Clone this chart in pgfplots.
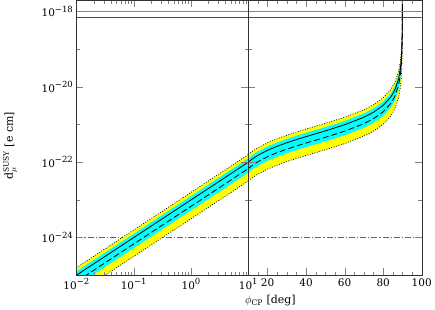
\documentclass[border=0pt]{standalone}
\usepackage{fontspec}
\setmainfont{DejaVu Serif}
\usepackage{pgfplots}
\usepackage{pgfplotstable}
\pgfplotsset{compat=1.18}
\definecolor{yel}{RGB}{255,255,0}
\definecolor{cyn}{RGB}{0,255,255}
\definecolor{rd}{RGB}{255,0,0}
\definecolor{pinkrd}{RGB}{255,90,90}
\definecolor{dgray}{RGB}{100,100,100}
\newcommand{\tp}[1]{10\raisebox{0.45em}{\fontsize{8.5}{9}\selectfont #1}}

\pgfplotstableread{
phi ytop ctop mid dash cbot ybot
0.01 1.569e-25 1.246e-25 9.898e-26 6.69e-26 5.20e-26 3.13e-26
0.1 1.569e-24 1.246e-24 9.898e-25 6.69e-25 5.20e-25 3.13e-25
1 1.569e-23 1.246e-23 9.899e-24 6.69e-24 5.20e-24 3.13e-24
3 4.711e-23 3.742e-23 2.972e-23 2.009e-23 1.560e-23 9.39e-24
10 1.585e-22 1.259e-22 1.000e-22 6.76e-23 5.25e-23 3.16e-23
}\leftdata

\pgfplotstableread{
phi ytop ctop mid dash cbot ybot
10 1.585e-22 1.259e-22 1.000e-22 6.76e-23 5.25e-23 3.16e-23
12 1.911e-22 1.518e-22 1.205e-22 8.15e-23 6.33e-23 3.81e-23
15 2.409e-22 1.913e-22 1.520e-22 1.027e-22 7.98e-23 4.80e-23
20 3.271e-22 2.599e-22 2.064e-22 1.395e-22 1.084e-22 6.52e-23
25 4.191e-22 3.329e-22 2.644e-22 1.787e-22 1.388e-22 8.36e-23
30 5.189e-22 4.122e-22 3.274e-22 2.213e-22 1.719e-22 1.035e-22
35 6.294e-22 5.000e-22 3.971e-22 2.684e-22 2.085e-22 1.255e-22
40 7.543e-22 5.992e-22 4.759e-22 3.217e-22 2.498e-22 1.504e-22
50 1.071e-21 8.508e-22 6.758e-22 4.568e-22 3.548e-22 2.136e-22
60 1.557e-21 1.237e-21 9.823e-22 6.640e-22 5.157e-22 3.104e-22
70 2.469e-21 1.962e-21 1.558e-21 1.053e-21 8.18e-22 4.923e-22
75 3.355e-21 2.665e-21 2.117e-21 1.431e-21 1.111e-21 6.69e-22
80 5.097e-21 4.049e-21 3.216e-21 2.174e-21 1.688e-21 1.016e-21
84 8.553e-21 6.794e-21 5.396e-21 3.648e-21 2.833e-21 1.705e-21
86 1.285e-20 1.021e-20 8.110e-21 5.482e-21 4.258e-21 2.563e-21
88 2.574e-20 2.045e-20 1.624e-20 1.098e-20 8.53e-21 5.13e-21
89 5.150e-20 4.090e-20 3.249e-20 2.196e-20 1.706e-20 1.027e-20
89.5 1.030e-19 8.181e-20 6.498e-20 4.393e-20 3.411e-20 2.053e-20
89.8 2.576e-19 2.046e-19 1.625e-19 1.099e-19 8.53e-20 5.135e-20
89.9 5.150e-19 4.090e-19 3.249e-19 2.196e-19 1.706e-19 1.027e-19
89.95 1.030e-18 8.18e-19 6.499e-19 4.393e-19 3.412e-19 2.054e-19
89.99 5.15e-18 4.09e-18 3.249e-18 2.196e-18 1.706e-18 1.027e-18
89.999 5.15e-17 4.09e-17 3.249e-17 2.196e-17 1.706e-17 1.027e-17
}\rightdata

\pgfplotstableread{
phi y
0.01 1.569e-25
0.1 1.569e-24
1 1.569e-23
3 4.711e-23
10 1.585e-22
10 3.16e-23
3 9.39e-24
1 3.13e-24
0.1 3.13e-25
0.01 3.13e-26
}\leftyellow

\pgfplotstableread{
phi y
0.01 1.246e-25
0.1 1.246e-24
1 1.246e-23
3 3.742e-23
10 1.259e-22
10 5.25e-23
3 1.560e-23
1 5.20e-24
0.1 5.20e-25
0.01 5.20e-26
}\leftcyan

\pgfplotstableread{
phi y
10 1.585e-22
12 1.911e-22
15 2.409e-22
20 3.271e-22
25 4.191e-22
30 5.189e-22
35 6.294e-22
40 7.543e-22
50 1.071e-21
60 1.557e-21
70 2.469e-21
75 3.355e-21
80 5.097e-21
84 8.553e-21
86 1.285e-20
88 2.574e-20
89 5.150e-20
89.5 1.030e-19
89.8 2.576e-19
89.9 5.150e-19
89.95 1.030e-18
89.99 5.15e-18
89.999 5.15e-17
89.999 1.027e-17
89.99 1.027e-18
89.95 2.054e-19
89.9 1.027e-19
89.8 5.135e-20
89.5 2.053e-20
89 1.027e-20
88 5.13e-21
86 2.563e-21
84 1.705e-21
80 1.016e-21
75 6.69e-22
70 4.923e-22
60 3.104e-22
50 2.136e-22
40 1.504e-22
35 1.255e-22
30 1.035e-22
25 8.36e-23
20 6.52e-23
15 4.80e-23
12 3.81e-23
10 3.16e-23
}\rightyellow

\pgfplotstableread{
phi y
10 1.259e-22
12 1.518e-22
15 1.913e-22
20 2.599e-22
25 3.329e-22
30 4.122e-22
35 5.000e-22
40 5.992e-22
50 8.508e-22
60 1.237e-21
70 1.962e-21
75 2.665e-21
80 4.049e-21
84 6.794e-21
86 1.021e-20
88 2.045e-20
89 4.090e-20
89.5 8.181e-20
89.8 2.046e-19
89.9 4.090e-19
89.95 8.18e-19
89.99 4.09e-18
89.999 4.09e-17
89.999 1.706e-17
89.99 1.706e-18
89.95 3.412e-19
89.9 1.706e-19
89.8 8.53e-20
89.5 3.411e-20
89 1.706e-20
88 8.53e-21
86 4.258e-21
84 2.833e-21
80 1.688e-21
75 1.111e-21
70 8.18e-22
60 5.157e-22
50 3.548e-22
40 2.498e-22
35 2.085e-22
30 1.719e-22
25 1.388e-22
20 1.084e-22
15 7.98e-23
12 6.33e-23
10 5.25e-23
}\rightcyan

\begin{document}
\begin{tikzpicture}
\begin{axis}[
  scale only axis, height=275bp, width=172bp,
  axis on top,
  ymode=log, ymin=1e-25, ymax=2e-18,
  ytick={1e-24,1e-22,1e-20,1e-18},
  yticklabels={\tp{−24},\tp{−22},\tp{−20},\tp{−18}},
  minor ytick={1e-25,1e-23,1e-21,1e-19},
  tick align=inside, xtick pos=both, ytick pos=both,
  major tick length=7bp, minor tick length=3.5bp,
  tick label style={font=\fontsize{10.5}{12}\selectfont},
  label style={font=\fontsize{11}{13}\selectfont},
  axis line style={black!80},
  xmode=log, xmin=0.01, xmax=10,
  xtick={0.01,0.1,1,10},
  xticklabels={\tp{−2},\tp{−1},\tp{0},\tp{1}},
  ylabel={d$_{\mu}^{\hbox{\fontsize{7.5}{8}\selectfont SUSY}}$ [e cm]},
  ylabel style={at={(axis description cs:-0.385,0.47)}, anchor=center},
]
\addplot[color=dgray, line width=0.6pt, dash pattern=on 6bp off 2bp on 1.2bp off 2bp] coordinates {(0.01,1e-24) (10,1e-24)};
\addplot[fill=yel, draw=none] table[x=phi,y=y]{\leftyellow} -- cycle;
\addplot[fill=cyn, draw=none] table[x=phi,y=y]{\leftcyan} -- cycle;
\addplot[color=black, line width=0.7pt, dash pattern=on 0.9bp off 1.6bp] table[x=phi,y=ytop]{\leftdata};
\addplot[color=black, line width=0.7pt, dash pattern=on 0.9bp off 1.6bp] table[x=phi,y=ybot]{\leftdata};
\addplot[black, line width=0.8pt] table[x=phi,y=mid]{\leftdata};
\addplot[black, line width=0.8pt, dash pattern=on 6bp off 3bp] table[x=phi,y=dash]{\leftdata};
\addplot[color=pinkrd, line width=1.1pt] coordinates {(0.01,1e-18) (10,1e-18)};
\addplot[color=rd, line width=1.1pt] coordinates {(0.01,7e-19) (10,7e-19)};
\end{axis}

\begin{axis}[at={(172bp,0)},
  scale only axis, height=275bp, width=173.5bp,
  axis on top,
  ymode=log, ymin=1e-25, ymax=2e-18,
  ytick={1e-24,1e-22,1e-20,1e-18},
  minor ytick={1e-25,1e-23,1e-21,1e-19},
  tick align=inside, xtick pos=both, ytick pos=both,
  major tick length=7bp, minor tick length=3.5bp,
  tick label style={font=\fontsize{10.5}{12}\selectfont},
  label style={font=\fontsize{11}{13}\selectfont},
  axis line style={black!80},
  xmin=10, xmax=100,
  xtick={20,40,60,80,100},
  xticklabels={20,40,60,80,100},
  minor xtick={10,15,...,95},
  yticklabels={},
  xlabel={$\phi$\textsubscript{CP} [deg]},
  xlabel style={at={(axis description cs:0.127,0)}, anchor=north, yshift=-17bp},
]
\addplot[color=dgray, line width=0.6pt, dash pattern=on 6bp off 2bp on 1.2bp off 2bp] coordinates {(10,1e-24) (100,1e-24)};
\addplot[fill=yel, draw=none] table[x=phi,y=y]{\rightyellow} -- cycle;
\addplot[fill=cyn, draw=none] table[x=phi,y=y]{\rightcyan} -- cycle;
\addplot[color=black, line width=0.7pt, dash pattern=on 0.9bp off 1.6bp] table[x=phi,y=ytop]{\rightdata};
\addplot[color=black, line width=0.7pt, dash pattern=on 0.9bp off 1.6bp] table[x=phi,y=ybot]{\rightdata};
\addplot[black, line width=0.8pt] table[x=phi,y=mid]{\rightdata};
\addplot[black, line width=0.8pt, dash pattern=on 6bp off 3bp] table[x=phi,y=dash]{\rightdata};
\addplot[color=pinkrd, line width=1.1pt] coordinates {(10,1e-18) (100,1e-18)};
\addplot[color=rd, line width=1.1pt] coordinates {(10,7e-19) (100,7e-19)};
\end{axis}
\end{tikzpicture}
\end{document}
